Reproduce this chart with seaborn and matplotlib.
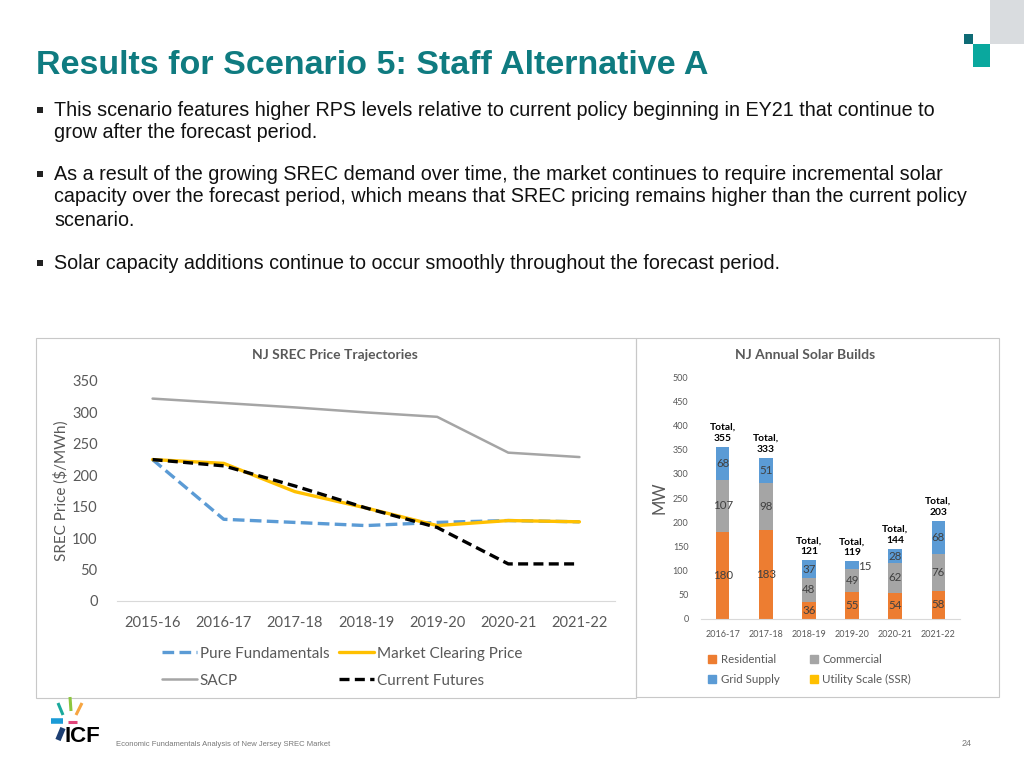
import numpy as np
import pandas as pd
import matplotlib
matplotlib.use("Agg")
import matplotlib.pyplot as plt
import seaborn as sns
from matplotlib.patches import Rectangle, Patch
from matplotlib.lines import Line2D

# --------------------------------------------------------------------------- #
# Data
# --------------------------------------------------------------------------- #
price_years = ["2015-16", "2016-17", "2017-18", "2018-19", "2019-20", "2020-21", "2021-22"]
pure_fundamentals = [225, 130, 125, 120, 125, 128, 126]
market_clearing = [225, 219, 174, 148, 120, 128, 126]
sacp = [322, 315, 308, 300, 293, 236, 229]
current_futures = [225, 215, 183, 148, 117, 59, 59]

build_years = ["2016-17", "2017-18", "2018-19", "2019-20", "2020-21", "2021-22"]
residential = [180, 183, 36, 55, 54, 58]
commercial = [107, 98, 48, 49, 62, 76]
grid_supply = [68, 51, 37, 15, 28, 68]
utility_scale = [0, 0, 0, 0, 0, 0]
build_totals = [355, 333, 121, 119, 144, 203]

bullets = [
    ["This scenario features higher RPS levels relative to current policy beginning in EY21 that continue to",
     "grow after the forecast period."],
    ["As a result of the growing SREC demand over time, the market continues to require incremental solar",
     "capacity over the forecast period, which means that SREC pricing remains higher than the current policy",
     "scenario."],
    ["Solar capacity additions continue to occur smoothly throughout the forecast period."],
]

TEAL = "#0f7b80"
GREY_TXT = "#595959"
C_BLUE = "#5b9bd5"
C_GOLD = "#ffc000"
C_GREY = "#a5a5a5"
C_ORANGE = "#ed7d31"

sns.set_theme(style="white")
plt.rcParams["font.family"] = ["Liberation Sans", "DejaVu Sans"]

W, H = 1024, 768
fig = plt.figure(figsize=(10.24, 7.68), dpi=100)


def fx(x):
    return x / W


def fy(y):
    return 1 - y / H


# --------------------------------------------------------------------------- #
# Slide text
# --------------------------------------------------------------------------- #
fig.text(fx(36), fy(66), "Results for Scenario 5: Staff Alternative A", color=TEAL,
         fontsize=24.5, fontweight="bold", va="center", ha="left")

bullet_y = [110, 174, 263]
for by, lines in zip(bullet_y, bullets):
    fig.add_artist(Rectangle((fx(37), fy(by + 3)), fx(6), 6 / H, transform=fig.transFigure,
                             color="#222222", lw=0))
    for k, line in enumerate(lines):
        fig.text(fx(54), fy(by + 23 * k), line, fontsize=14.2, va="center", ha="left",
                 color="#111111")

# top-right decoration
fig.add_artist(Rectangle((fx(990), fy(44)), fx(34), 44 / H, transform=fig.transFigure,
                         color="#d9dcdf", lw=0))
fig.add_artist(Rectangle((fx(964), fy(44)), fx(9), 10 / H, transform=fig.transFigure,
                         color="#0e6b75", lw=0))
fig.add_artist(Rectangle((fx(973), fy(67)), fx(17), 23 / H, transform=fig.transFigure,
                         color="#0aa89e", lw=0))

# chart panel frames
for x0, x1, y0, y1 in [(36, 636, 338, 698), (636, 999, 338, 697)]:
    fig.add_artist(Rectangle((fx(x0), fy(y1)), fx(x1 - x0), (y1 - y0) / H,
                             transform=fig.transFigure, fill=False, ec="#c8c8c8", lw=0.8))

# --------------------------------------------------------------------------- #
# Left chart: price trajectories
# --------------------------------------------------------------------------- #
ax1 = fig.add_axes([fx(117), fy(601), fx(498), 220 / H])
xpos = np.arange(len(price_years))
series = {
    "Pure Fundamentals": (pure_fundamentals, C_BLUE, (3.5, 1.6), 2.4),
    "Market Clearing Price": (market_clearing, C_GOLD, None, 2.4),
    "SACP": (sacp, C_GREY, None, 1.8),
    "Current Futures": (current_futures, "black", (3, 1.6), 2.4),
}
handles = {}
for name, (vals, col, dash, lw) in series.items():
    df = pd.DataFrame({"x": xpos, "y": vals})
    sns.lineplot(data=df, x="x", y="y", ax=ax1, color=col, lw=lw)
    if dash:
        ax1.lines[-1].set_dashes(dash)
    h = Line2D([0], [0], color=col, lw=lw)
    if dash:
        h.set_dashes(dash)
    handles[name] = h

ax1.set_xlim(-0.5, len(price_years) - 0.5)
ax1.set_ylim(0, 350)
ax1.set_yticks(range(0, 351, 50))
ax1.set_xticks(xpos)
ax1.set_xticklabels(price_years)
ax1.set_xlabel("")
ax1.set_ylabel("SREC Price ($/MWh)", color=GREY_TXT, fontsize=11, family=["Lato"], labelpad=2)
ax1.tick_params(axis="both", length=0, labelsize=10.5, labelcolor=GREY_TXT)
ax1.tick_params(axis="x", pad=11)
ax1.tick_params(axis="y", pad=14)
for lab in ax1.get_xticklabels() + ax1.get_yticklabels():
    lab.set_family(["Lato"])
for s in ["top", "right", "left"]:
    ax1.spines[s].set_visible(False)
ax1.spines["bottom"].set_color("#d9d9d9")
ax1.spines["bottom"].set_linewidth(0.8)
ax1.set_facecolor("none")

fig.text(fx(335), fy(355), "NJ SREC Price Trajectories", ha="center", va="center",
         fontsize=10, fontweight="bold", color=GREY_TXT, family=["Lato"])

# legend filled column-wise, so order gives rows PF/MCP and SACP/CF
leg_order = ["Pure Fundamentals", "SACP", "Market Clearing Price", "Current Futures"]
leg1 = fig.legend([handles[n] for n in leg_order], leg_order, ncol=2, loc="upper left",
                  bbox_to_anchor=(fx(148), fy(633)), frameon=False, handlelength=2.3,
                  handletextpad=0.2, columnspacing=0.6, labelspacing=0.85,
                  prop={"family": ["Lato"], "size": 11})
for t in leg1.get_texts():
    t.set_color(GREY_TXT)

# --------------------------------------------------------------------------- #
# Right chart: annual solar builds
# --------------------------------------------------------------------------- #
ax2 = fig.add_axes([fx(701), fy(619), fx(259), 242 / H])
bdf = pd.DataFrame({
    "year": build_years,
    "res": residential,
    "com": commercial,
    "grid": grid_supply,
    "util": utility_scale,
})
bdf["lvl1"] = bdf["res"]
bdf["lvl2"] = bdf["res"] + bdf["com"]
bdf["lvl3"] = bdf["lvl2"] + bdf["grid"]
bdf["lvl4"] = bdf["lvl3"] + bdf["util"]

bw = 0.32
for col, c in [("lvl4", C_GOLD), ("lvl3", C_BLUE), ("lvl2", C_GREY), ("lvl1", C_ORANGE)]:
    sns.barplot(data=bdf, x="year", y=col, ax=ax2, color=c, width=bw, saturation=1,
                edgecolor="none", linewidth=0)

lab_kw = dict(ha="center", va="center", fontsize=8.3, color="#404040", family=["Lato"])
for i in range(len(build_years)):
    r, c, g = residential[i], commercial[i], grid_supply[i]
    ax2.text(i, r / 2, str(r), **lab_kw)
    ax2.text(i, r + c / 2, str(c), **lab_kw)
    if g >= 20:
        ax2.text(i, r + c + g / 2, str(g), **lab_kw)
    else:
        ax2.text(i + 0.3, r + c + g / 2 - 4, str(g), **lab_kw)
    ax2.annotate(f"Total,\n{build_totals[i]}", (i, r + c + g), xytext=(0, 3),
                 textcoords="offset points", ha="center", va="bottom", fontsize=7.4,
                 fontweight="bold", color="black", family=["Lato"], linespacing=1.3)

ax2.set_xlim(-0.5, len(build_years) - 0.5)
ax2.set_ylim(0, 500)
ax2.set_yticks(range(0, 501, 50))
ax2.set_xlabel("")
ax2.set_ylabel("MW", color=GREY_TXT, fontsize=12, family=["Lato"], labelpad=4)
ax2.tick_params(axis="both", length=0, labelsize=6.5, labelcolor=GREY_TXT)
ax2.tick_params(axis="y", pad=9)
ax2.tick_params(axis="x", pad=8)
for lab in ax2.get_xticklabels() + ax2.get_yticklabels():
    lab.set_family(["Lato"])
for s in ["top", "right", "left"]:
    ax2.spines[s].set_visible(False)
ax2.spines["bottom"].set_color("#d9d9d9")
ax2.spines["bottom"].set_linewidth(0.8)
ax2.set_facecolor("none")

fig.text(fx(805), fy(355), "NJ Annual Solar Builds", ha="center", va="center",
         fontsize=10, fontweight="bold", color=GREY_TXT, family=["Lato"])

bar_handles = [Patch(color=C_ORANGE), Patch(color=C_BLUE), Patch(color=C_GREY), Patch(color=C_GOLD)]
leg2 = fig.legend(bar_handles, ["Residential", "Grid Supply", "Commercial", "Utility Scale (SSR)"],
                  ncol=2, loc="upper left", bbox_to_anchor=(fx(698), fy(644)), frameon=False,
                  handlelength=0.7, handleheight=0.7, handletextpad=0.4, columnspacing=2.6,
                  labelspacing=0.75, prop={"family": ["Lato"], "size": 8.3})
for t in leg2.get_texts():
    t.set_color(GREY_TXT)

# --------------------------------------------------------------------------- #
# Footer: logo, caption, page number
# --------------------------------------------------------------------------- #
logo = [
    ((58, 703), (63, 715), "#1aa99c", 2.2),
    ((70, 697), (71, 711), "#8cc63f", 2.2),
    ((82, 703), (76, 715), "#f7a541", 2.2),
    ((51, 721), (63, 721), "#1b9bd7", 4.0),
    ((68, 722), (77, 722), "#e2457a", 2.2),
    ((63, 728), (58, 740), "#1d3f73", 4.0),
]
for (x0, y0), (x1, y1), c, lw in logo:
    fig.add_artist(Line2D([fx(x0), fx(x1)], [fy(y0), fy(y1)], transform=fig.transFigure,
                          color=c, lw=lw, solid_capstyle="butt"))
fig.text(fx(65), fy(737), "ICF", fontsize=16, fontweight="bold", color="black",
         va="center", ha="left")

fig.text(fx(116), fy(745), "Economic Fundamentals Analysis of New Jersey SREC Market",
         fontsize=5.5, color="#777777", va="center", ha="left")
fig.text(fx(962), fy(744), "24", fontsize=6.5, color="#777777", va="center", ha="left")

fig.savefig("out.png", dpi=100)
